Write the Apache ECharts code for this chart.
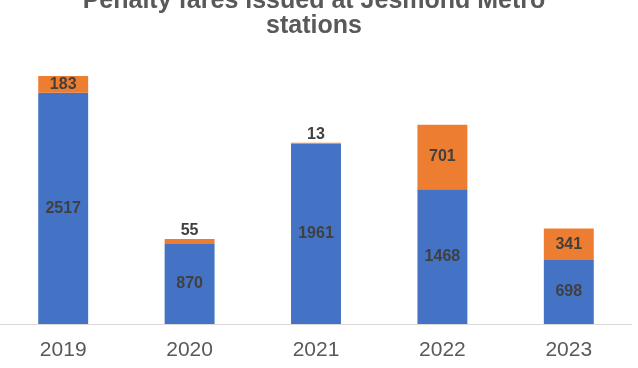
<!DOCTYPE html>
<html><head><meta charset="utf-8">
<script src="https://cdn.jsdelivr.net/npm/echarts@6/dist/echarts.min.js"></script>
<style>html,body{margin:0;padding:0;background:#fff}#c{width:638px;height:368px}</style>
</head><body><div id="c"></div>
<script>
const categories = ['2019', '2020', '2021', '2022', '2023'];
const blueValues = [2517, 870, 1961, 1468, 698];
const orangeValues = [183, 55, 13, 701, 341];
const orangeLabelAbove = [false, true, true, false, false];
const titleText = 'Penalty fares issued at Jesmond Metro\nstations';

const chart = echarts.init(document.getElementById('c'));
const labelStyle = { show: true, color: '#404040', fontSize: 16, fontWeight: 'bold', fontFamily: 'Liberation Sans, Arial, sans-serif' };
chart.setOption({
  animation: false,
  graphic: [{
    type: 'text', x: 314, y: 39,
    style: {
      text: titleText, align: 'center', verticalAlign: 'bottom',
      fill: '#595959', fontSize: 25, fontWeight: 'bold', lineHeight: 25,
      fontFamily: 'Liberation Sans, Arial, sans-serif'
    }
  }],
  grid: { left: 0, right: 6, top: 48.4, bottom: 44 },
  xAxis: {
    type: 'category', data: categories,
    axisLine: { lineStyle: { color: '#d9d9d9', width: 1 } },
    axisTick: { show: false },
    axisLabel: { color: '#595959', fontSize: 21, margin: 16, fontFamily: 'Liberation Sans, Arial, sans-serif' }
  },
  yAxis: { type: 'value', min: 0, max: 3000, show: false, splitLine: { show: false } },
  series: [
    {
      type: 'bar', stack: 's', data: blueValues, barWidth: '39.5%',
      itemStyle: { color: '#4472C4' },
      label: Object.assign({ position: 'inside' }, labelStyle)
    },
    {
      type: 'bar', stack: 's', barWidth: '39.5%',
      data: orangeValues.map((v, i) => ({
        value: v,
        label: orangeLabelAbove[i] ? { position: 'top', distance: 0 } : { position: 'inside' }
      })),
      itemStyle: { color: '#ED7D31' },
      label: labelStyle
    }
  ]
});
</script></body></html>
